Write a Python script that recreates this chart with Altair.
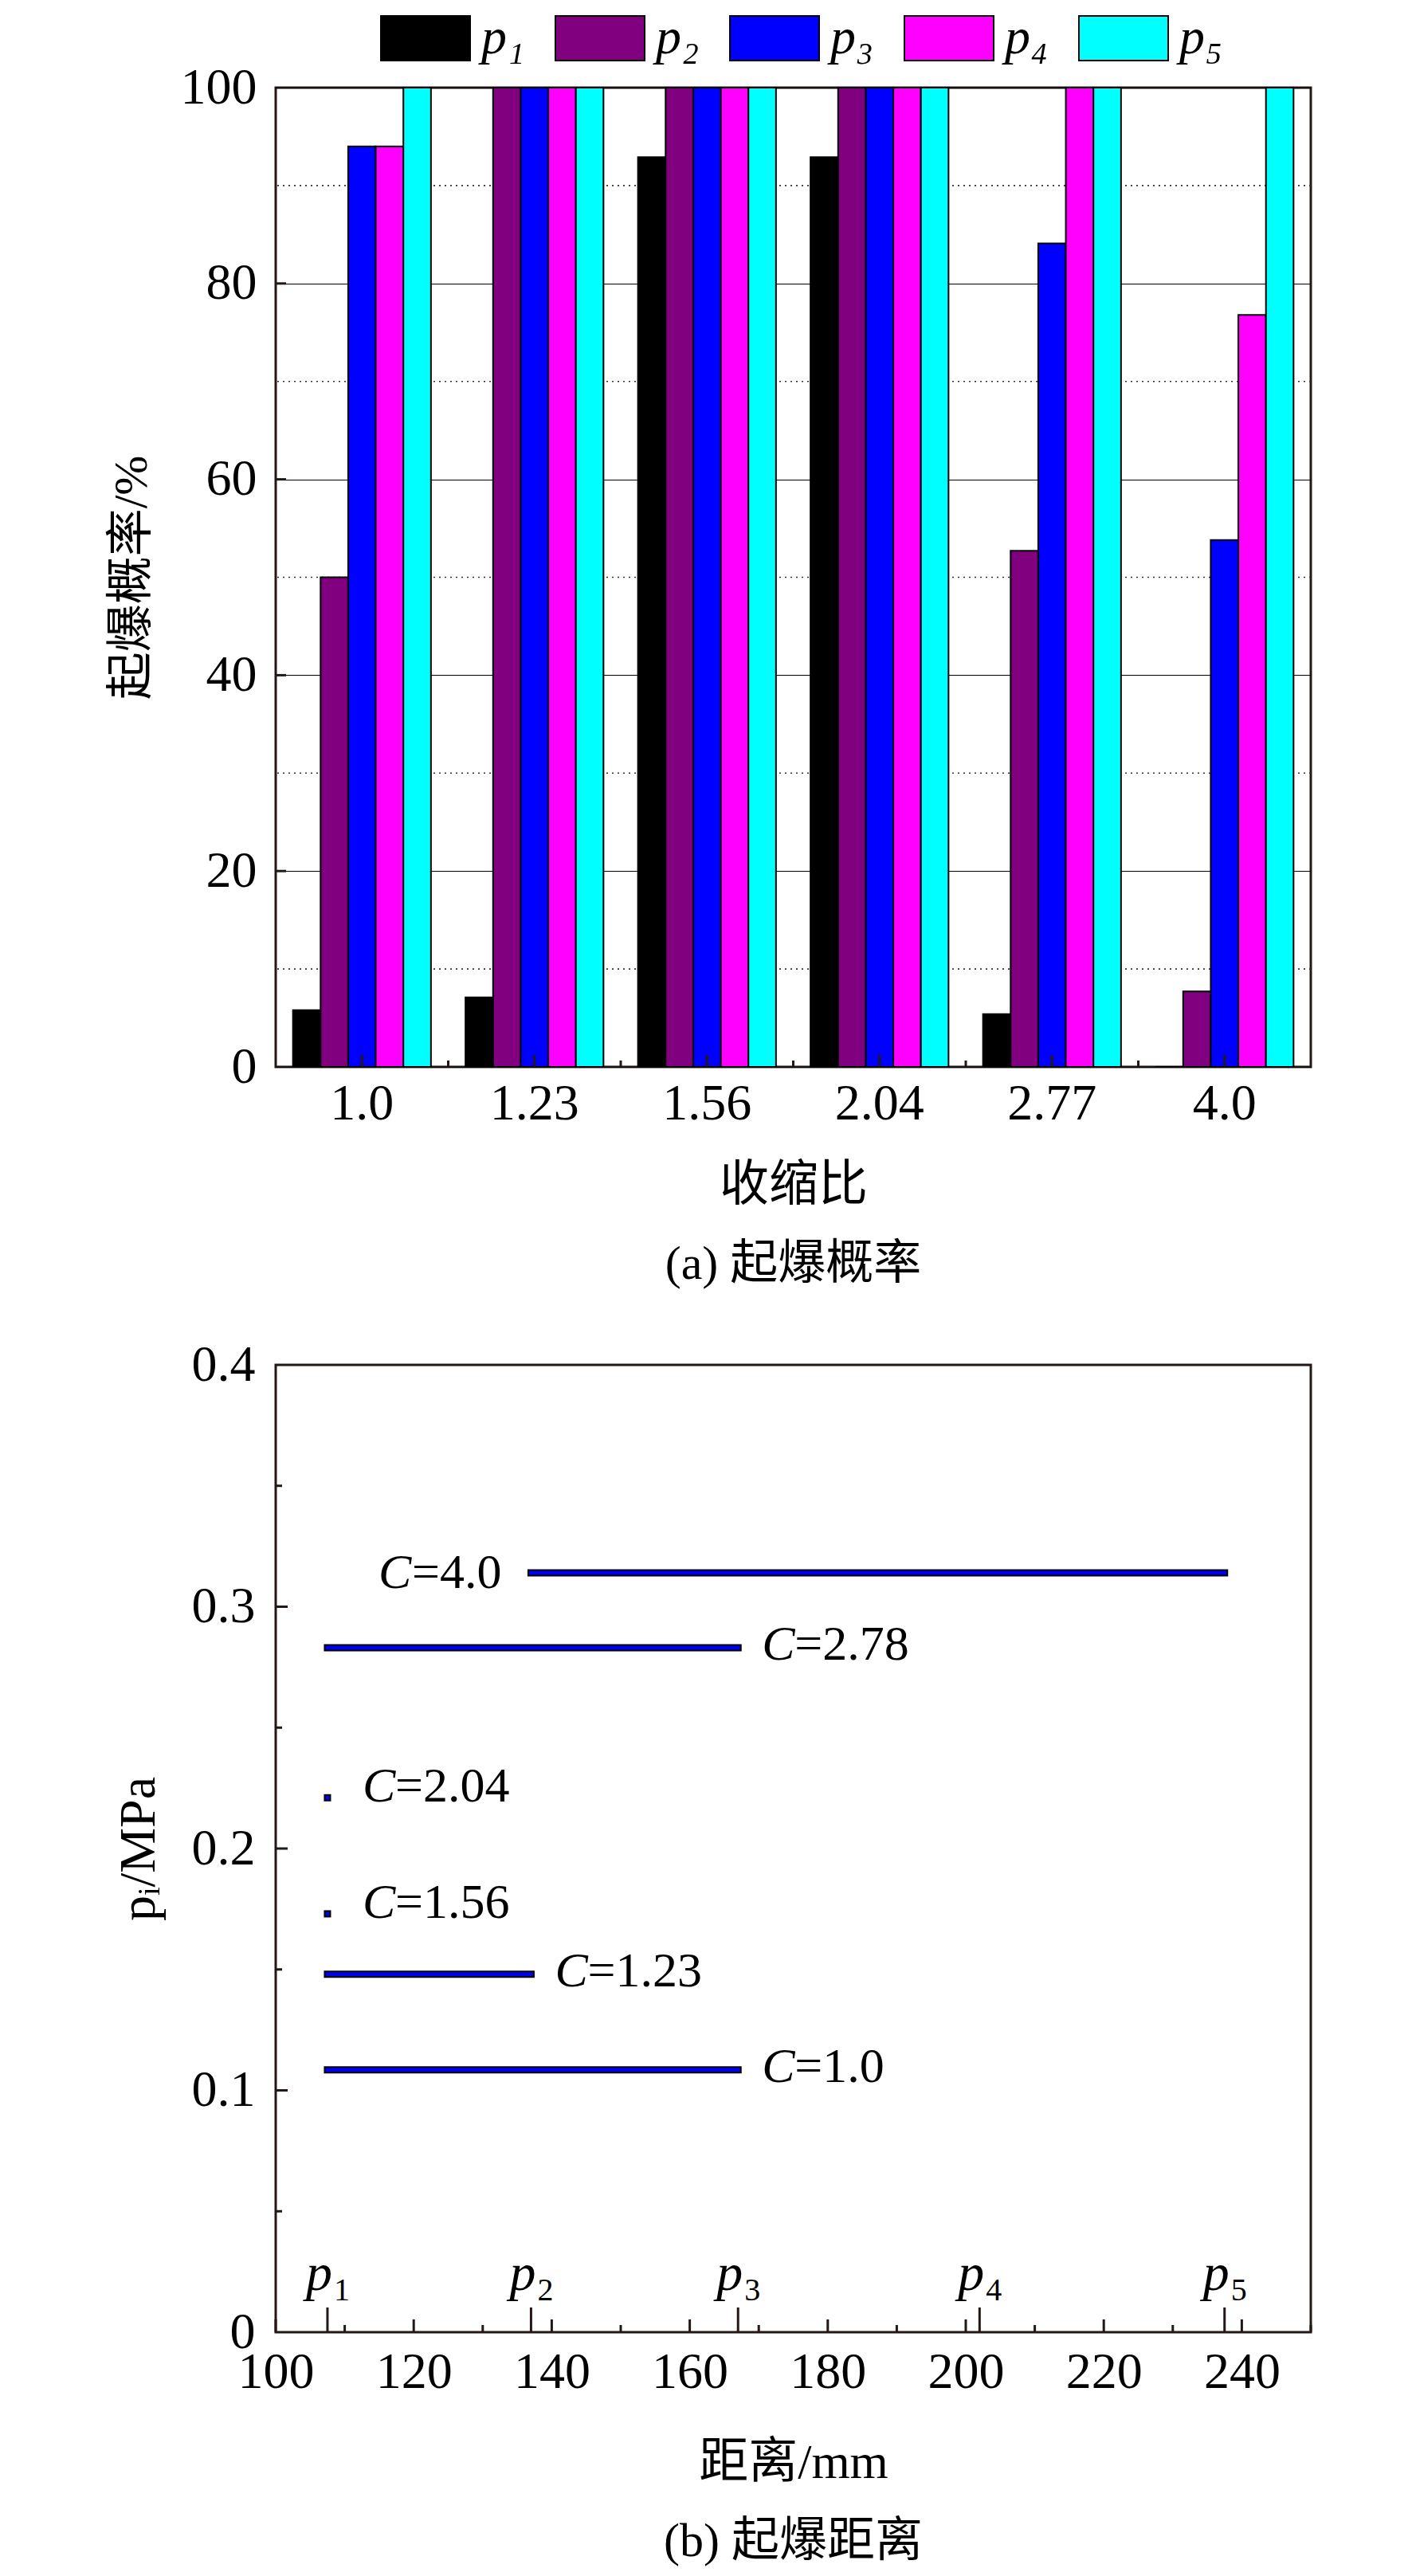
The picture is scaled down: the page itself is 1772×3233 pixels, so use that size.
import altair as alt
import pandas as pd

# ---------------- data: (a) detonation probability ----------------
ratios = ["1.0", "1.23", "1.56", "2.04", "2.77", "4.0"]
series = ["p₁", "p₂", "p₃", "p₄", "p₅"]
p1_vals = [5.8, 7.1, 92.9, 92.9, 5.4, 0.0]
p2_vals = [50.0, 100.0, 100.0, 100.0, 52.7, 7.7]
p3_vals = [94.0, 100.0, 100.0, 100.0, 84.1, 53.8]
p4_vals = [94.0, 100.0, 100.0, 100.0, 100.0, 76.8]
p5_vals = [100.0, 100.0, 100.0, 100.0, 100.0, 100.0]
bar_colors = ["#000000", "#800080", "#0000FF", "#FF00FF", "#00FFFF"]
ya_labels = [0, 20, 40, 60, 80, 100]
ya_major = [20, 40, 60, 80]
ya_minor_grid = [10, 30, 50, 70, 90]

# ---------------- data: (b) detonation distance ----------------
pos_names = ["p1", "p2", "p3", "p4", "p5"]
pos_mm = [107.5, 137.0, 167.0, 202.0, 237.5]
pos_sub = ["1", "2", "3", "4", "5"]
c_values = ["4.0", "2.78", "2.04", "1.56", "1.23", "1.0"]
c_pi = [0.314, 0.283, 0.221, 0.173, 0.148, 0.1085]
c_from = ["p2", "p1", "p1", "p1", "p1", "p1"]
c_to = ["p5", "p3", "p1", "p1", "p2", "p3"]
c_side = ["left", "right", "right", "right", "right", "right"]
xb_major = [100, 120, 140, 160, 180, 200, 220, 240]
xb_minor = [110, 130, 150, 170, 190, 210, 230, 250]
yb_labels = [0, 0.1, 0.2, 0.3, 0.4]
yb_major = [0.1, 0.2, 0.3]
yb_minor = [0.05, 0.15, 0.25, 0.35]

FONT = "Liberation Serif, DejaVu Serif, Noto Sans CJK SC"
AX = "#231815"
W = 1299
H1 = 1229
H2 = 1214

# ---------------- panel (a) ----------------
rows = []
for s, vals in zip(series, [p1_vals, p2_vals, p3_vals, p4_vals, p5_vals]):
    for r, v in zip(ratios, vals):
        rows.append({"ratio": r, "series": s, "value": v})
df_a = pd.DataFrame(rows)

xa_scale = alt.Scale(paddingInner=0.2, paddingOuter=0.1)
xa_axis = alt.Axis(title="收缩比", labelAngle=0, ticks=False, domain=False, grid=False,
                   labelFontSize=64, labelPadding=14, titleFontSize=62, titlePadding=40)
ya_scale = alt.Scale(domain=[0, 100], nice=False)
ya_axis = alt.Axis(title="起爆概率/%", values=ya_labels, ticks=False, domain=False, grid=True,
                   gridColor="black", gridWidth=1.2, labelFontSize=64, labelPadding=24,
                   titleFontSize=60, titlePadding=30)


def XA(f):
    return alt.X(f, type="nominal", sort=ratios, scale=xa_scale, axis=xa_axis)


def YA(f):
    return alt.Y(f, type="quantitative", scale=ya_scale, axis=ya_axis)


grid_minor = alt.Chart(pd.DataFrame({"v": ya_minor_grid})).mark_rule(
    color="#333333", strokeDash=[2, 5], strokeWidth=1.6).encode(y=YA("v"))

bars = alt.Chart(df_a).mark_bar(stroke="black", strokeWidth=2).encode(
    x=XA("ratio"),
    xOffset=alt.XOffset("series:N", sort=series, scale=alt.Scale(paddingInner=0, paddingOuter=0)),
    y=YA("value"),
    color=alt.Color("series:N", sort=series,
                    scale=alt.Scale(domain=series, range=bar_colors),
                    legend=alt.Legend(title=None, orient="none", legendX=156, legendY=-94,
                                      direction="horizontal",
                                      symbolType="M-2,-1H2V1H-2Z", symbolSize=3136,
                                      symbolStrokeColor="black", symbolStrokeWidth=2,
                                      symbolOpacity=1, labelFont=FONT, labelFontSize=64,
                                      labelFontStyle="italic", labelOffset=38,
                                      columnPadding=34, labelColor="black")),
)

ticks_ya = alt.Chart(pd.DataFrame({"v": ya_major})).mark_rule(color=AX, strokeWidth=3).encode(
    y=YA("v"), x=alt.value(0), x2=alt.value(13))
ticks_xa_c = alt.Chart(pd.DataFrame({"ratio": ratios})).mark_rule(color=AX, strokeWidth=3).encode(
    x=XA("ratio"), y=alt.value(H1), y2=alt.value(H1 - 15))
step_a = W / (len(ratios) - 0.2 + 0.2)
ticks_xa_b = alt.Chart(pd.DataFrame({"ratio": ratios[:-1]})).mark_rule(
    color=AX, strokeWidth=3, xOffset=step_a / 2).encode(
    x=XA("ratio"), y=alt.value(H1), y2=alt.value(H1 - 8))

panel_a = alt.layer(grid_minor, bars, ticks_ya, ticks_xa_c, ticks_xa_b).properties(
    width=W, height=H1,
    title=alt.TitleParams("(a) 起爆概率", orient="bottom", font=FONT, fontSize=60,
                          fontWeight="normal", color="black", offset=40))

# ---------------- panel (b) ----------------
pos_map = dict(zip(pos_names, pos_mm))
seg = pd.DataFrame({
    "c": c_values,
    "pi": c_pi,
    "xs": [pos_map[n] for n in c_from],
    "xe": [pos_map[n] for n in c_to],
    "side": c_side,
})
pdf = pd.DataFrame({"name": pos_names, "mm": pos_mm, "sub": pos_sub})

xb_scale = alt.Scale(domain=[100, 250], nice=False, zero=False)
xb_axis = alt.Axis(title="距离/mm", values=xb_major, ticks=False, domain=False, grid=False,
                   labelFlush=False, labelOverlap=False,
                   labelFontSize=64, labelPadding=18, titleFontSize=62, titlePadding=51)
yb_scale = alt.Scale(domain=[0, 0.4], nice=False)
yb_axis = alt.Axis(title="pᵢ/MPa", values=yb_labels, ticks=False, domain=False, grid=False,
                   labelFlush=False,
                   labelExpr="datum.value == 0 ? '0' : format(datum.value, '.1f')",
                   labelFontSize=64, labelPadding=26, titleFontSize=64, titlePadding=34)


def XB(f):
    return alt.X(f, type="quantitative", scale=xb_scale, axis=xb_axis)


def YB(f):
    return alt.Y(f, type="quantitative", scale=yb_scale, axis=yb_axis)


line_outer = alt.Chart(seg).mark_rule(color="black", strokeWidth=9, strokeCap="square").encode(
    x=XB("xs"), x2=alt.X2("xe:Q"), y=YB("pi"))
line_inner = alt.Chart(seg).mark_rule(color="#0000F0", strokeWidth=5, strokeCap="square").encode(
    x=XB("xs"), x2=alt.X2("xe:Q"), y=YB("pi"))


def label_pair(filter_expr, field, align, dx_c, dx_eq, dy):
    base = alt.Chart(seg).transform_filter(filter_expr).transform_calculate(eq="'=' + datum.c")
    c_part = base.mark_text(text="C", font=FONT, fontSize=62, fontStyle="italic", align=align,
                            baseline="middle", dx=dx_c, dy=dy, color="black").encode(
        x=XB(field), y=YB("pi"))
    eq_part = base.mark_text(font=FONT, fontSize=62, align=align, baseline="middle",
                             dx=dx_eq, dy=dy, color="black").encode(
        x=XB(field), y=YB("pi"), text="eq:N")
    return [c_part, eq_part]


labels = []
labels += label_pair("datum.side == 'left'", "xs", "right", -150, -37, 0)
labels += label_pair("datum.side == 'right' && datum.xs != datum.xe", "xe", "left", 30, 71, -4)
labels += label_pair("datum.side == 'right' && datum.xs == datum.xe", "xe", "left", 44, 85, -14)

p_main = alt.Chart(pdf).mark_text(text="p", font=FONT, fontSize=66, fontStyle="italic",
                                  align="right", baseline="alphabetic", dx=6, dy=-53,
                                  color="black").encode(x=XB("mm"), y=alt.value(H2))
p_sub = alt.Chart(pdf).mark_text(font=FONT, fontSize=40, align="left", baseline="alphabetic",
                                 dx=8, dy=-40, color="black").encode(
    x=XB("mm"), y=alt.value(H2), text="sub:N")

tk_xmaj = alt.Chart(pd.DataFrame({"v": xb_major})).mark_rule(color=AX, strokeWidth=3).encode(
    x=XB("v"), y=alt.value(H2), y2=alt.value(H2 - 16))
tk_xmin = alt.Chart(pd.DataFrame({"v": xb_minor})).mark_rule(color=AX, strokeWidth=3).encode(
    x=XB("v"), y=alt.value(H2), y2=alt.value(H2 - 9))
tk_p = alt.Chart(pdf).mark_rule(color=AX, strokeWidth=3).encode(
    x=XB("mm"), y=alt.value(H2), y2=alt.value(H2 - 31))
tk_ymaj = alt.Chart(pd.DataFrame({"v": yb_major})).mark_rule(color=AX, strokeWidth=3).encode(
    y=YB("v"), x=alt.value(0), x2=alt.value(15))
tk_ymin = alt.Chart(pd.DataFrame({"v": yb_minor})).mark_rule(color=AX, strokeWidth=3).encode(
    y=YB("v"), x=alt.value(0), x2=alt.value(8))

panel_b = alt.layer(line_outer, line_inner, *labels, p_main, p_sub,
                    tk_xmaj, tk_xmin, tk_p, tk_ymaj, tk_ymin).properties(
    width=W, height=H2,
    title=alt.TitleParams("(b) 起爆距离", orient="bottom", font=FONT, fontSize=60,
                          fontWeight="normal", color="black", offset=40))

chart = alt.vconcat(panel_a, panel_b, spacing=60).properties(
    padding={"left": 125, "top": 8, "right": 10, "bottom": 10}
).configure_view(stroke=AX, strokeWidth=3).configure_axis(
    labelFont=FONT, titleFont=FONT, labelColor="black", titleColor="black",
    titleFontWeight="normal"
).configure_legend(labelFont=FONT)

chart.save("out.html", embed_options={"renderer": "svg", "actions": False})
